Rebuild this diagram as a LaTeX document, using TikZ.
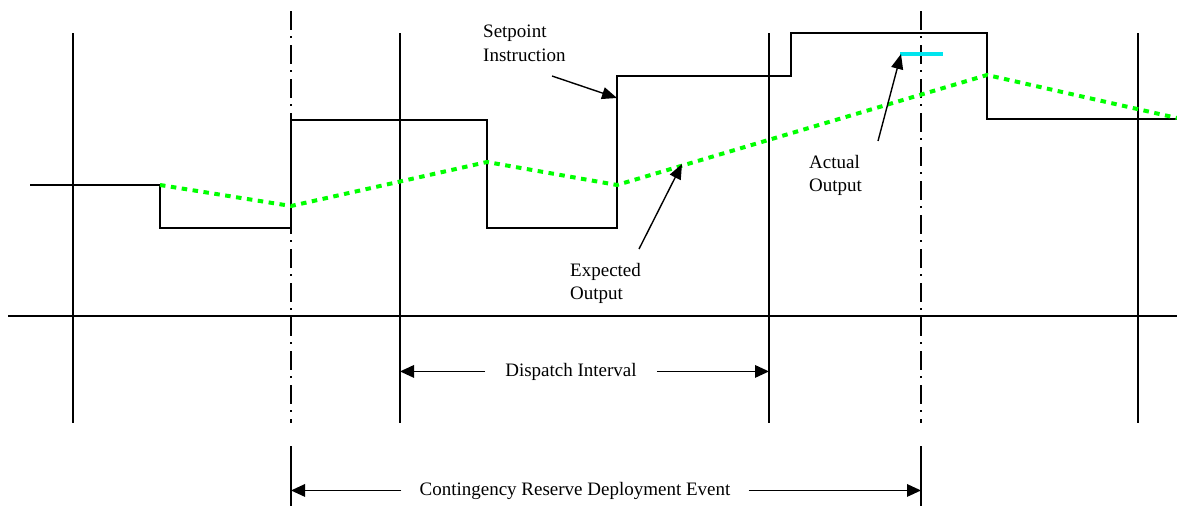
\documentclass[tikz,border=0pt]{standalone}
\usepackage{fontspec}
\setmainfont{Liberation Serif}
\usetikzlibrary{arrows.meta}
\definecolor{expgreen}{RGB}{0,255,0}
\definecolor{actcyan}{RGB}{0,229,238}
\begin{document}
\begin{tikzpicture}[x=1pt,y=-1pt,
  gridline/.style={line width=2pt},
  evline/.style={line width=2pt, dash pattern=on 19pt off 6pt on 2pt off 7pt},
  spline/.style={line width=2pt, line join=miter},
  expline/.style={expgreen, line width=4pt, dash pattern=on 5.5pt off 5.5pt},
  actline/.style={actcyan, line width=4pt},
  ann/.style={line width=1.4pt, -{Triangle[length=15pt,width=12pt]}},
  dimarrow/.style={line width=1.6pt, -{Triangle[length=14pt,width=12.5pt]}},
  lbl/.style={font=\fontsize{19}{23.5}\selectfont, inner sep=0pt, align=left},
]
\useasboundingbox (0,0) rectangle (1177,506);

% axis
\coordinate (axL) at (8,316);
\coordinate (axR) at (1177,316);
\draw[gridline] (axL) -- (axR);

% solid vertical lines
\foreach \x/\n in {73/a,400/b,769/c,1138/d}{
  \coordinate (v\n t) at (\x,33);
  \coordinate (v\n b) at (\x,423);
  \draw[gridline] (v\n t) -- (v\n b);
}

% dash-dot event lines
\foreach \x/\n in {291/e,921/f}{
  \coordinate (v\n t) at (\x,11);
  \coordinate (v\n b) at (\x,423);
  \coordinate (v\n s) at (\x,446);
  \coordinate (v\n e) at (\x,506);
  \draw[evline] (v\n t) -- (v\n b);
  \draw[gridline] (v\n s) -- (v\n e);
}

% setpoint instruction
\draw[spline] (30,185) -- (160,185) -- (160,228) -- (291,228) -- (291,120)
  -- (487,120) -- (487,228) -- (617,228) -- (617,76) -- (791,76) -- (791,33)
  -- (987,33) -- (987,119) -- (1177,119);

% expected output
\draw[expline] (160,185) -- (291,206) -- (487,162) -- (617,185) -- (987,75) -- (1177,118);

% actual output
\coordinate (actL) at (900,54);
\coordinate (actR) at (943,54);
\draw[actline] (actL) -- (actR);

% labels
\node[lbl, anchor=north west] (spl) at (483,25) {Setpoint\\Instruction};
\node[lbl, anchor=north west] (expl) at (570,263) {Expected\\Output};
\node[lbl, anchor=north west] (actl) at (809,155) {Actual\\Output};

% annotation arrows
\coordinate (spA) at (552,76);
\coordinate (spB) at (617,98);
\draw[ann] (spA) -- (spB);
\coordinate (exA) at (639,249);
\coordinate (exB) at (682,164);
\draw[ann] (exA) -- (exB);
\coordinate (acA) at (878,141);
\coordinate (acB) at (901,54);
\draw[ann] (acA) -- (acB);

% dispatch interval
\node[lbl, inner xsep=20pt, anchor=base] (disp) at (571,376) {Dispatch Interval};
\draw[dimarrow] (disp.west) -- (disp.west -| vbb);
\draw[dimarrow] (disp.east) -- (disp.east -| vcb);

% contingency event
\node[lbl, inner xsep=18pt, anchor=base] (cont) at (575,495) {Contingency Reserve Deployment Event};
\draw[dimarrow] (cont.west) -- (cont.west -| veb);
\draw[dimarrow] (cont.east) -- (cont.east -| vfb);
\end{tikzpicture}
\end{document}
